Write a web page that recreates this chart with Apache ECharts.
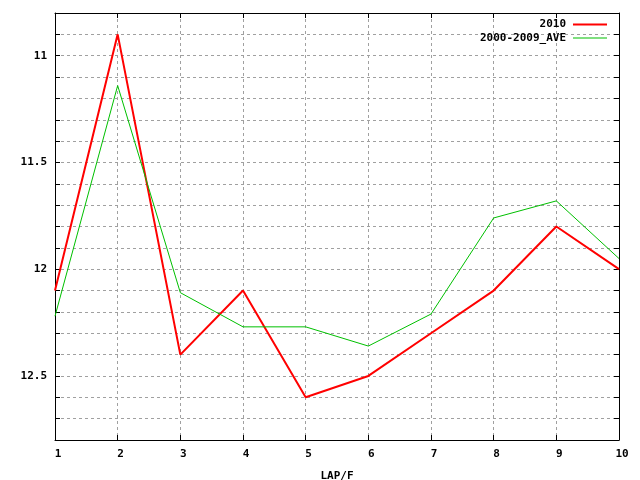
<!DOCTYPE html>
<html>
<head>
<meta charset="utf-8">
<script src="https://cdn.jsdelivr.net/npm/echarts@6/dist/echarts.min.js"></script>
<style>html,body{margin:0;padding:0;background:#fff;}#c{width:640px;height:480px;}</style>
</head>
<body>
<div id="c"></div>
<script>
var laps = [1, 2, 3, 4, 5, 6, 7, 8, 9, 10];
var s2010 = [12.1, 10.9, 12.4, 12.1, 12.6, 12.5, 12.3, 12.1, 11.8, 12.0];
var sAve = [12.22, 11.14, 12.11, 12.27, 12.27, 12.36, 12.21, 11.76, 11.68, 11.95];
var yLabels = ['11', '11.5', '12', '12.5'];
var xName = 'LAP/F';
var names = ['2010', '2000-2009_AVE'];

var font = 'DejaVu Sans Mono';
function pairs(v) { return laps.map(function (x, i) { return [x, v[i]]; }); }
var gridLine = { show: true, lineStyle: { color: '#a0a0a0', type: [3, 3], width: 1 } };
var axLine = { show: true, onZero: false, lineStyle: { color: '#000', width: 1 } };
var tick = { show: true, inside: true, length: 5, lineStyle: { color: '#000' } };
var legText = { fontFamily: font, fontWeight: 'bold', fontSize: 11, color: '#000', padding: [0, 2, 0, 0] };

var chart = echarts.init(document.getElementById('c'));
chart.setOption({
  animation: false,
  backgroundColor: '#fff',
  grid: { left: 55, right: 21, top: 13, bottom: 40, outerBoundsMode: 'none', containLabel: false },
  legend: [
    { data: [{ name: names[0], itemStyle: { color: '#ff0000' } }], right: 28, top: 14, orient: 'vertical', align: 'right', icon: 'rect',
      itemWidth: 34, itemHeight: 2, itemGap: 0, textStyle: legText },
    { data: [{ name: names[1], itemStyle: { color: '#00c000' } }], right: 28, top: 27.5, orient: 'vertical', align: 'right', icon: 'rect',
      itemWidth: 34, itemHeight: 1, itemGap: 0, textStyle: legText }
  ],
  xAxis: [
    { type: 'value', min: 1, max: 10, interval: 1, position: 'bottom',
      name: xName, nameLocation: 'middle', nameGap: 31,
      nameTextStyle: { fontFamily: font, fontWeight: 'bold', fontSize: 11, color: '#000' },
      axisLine: axLine, axisTick: tick, splitLine: gridLine,
      axisLabel: { fontFamily: font, fontWeight: 'bold', fontSize: 11, color: '#000', margin: 9, padding: [0, 0, 0, 6] } },
    { type: 'value', min: 1, max: 10, interval: 1, position: 'top',
      axisLine: axLine, axisTick: tick, splitLine: { show: false }, axisLabel: { show: false } }
  ],
  yAxis: [
    { type: 'value', inverse: true, min: 10.8, max: 12.8, interval: 0.1, position: 'left',
      axisLine: axLine, axisTick: tick, splitLine: gridLine,
      axisLabel: { fontFamily: font, fontWeight: 'bold', fontSize: 11, color: '#000', margin: 8,
        formatter: function (v) {
          var s = String(Math.round(v * 10) / 10);
          return yLabels.indexOf(s) >= 0 ? s : '';
        } } },
    { type: 'value', inverse: true, min: 10.8, max: 12.8, interval: 0.1, position: 'right',
      axisLine: axLine, axisTick: tick, splitLine: { show: false }, axisLabel: { show: false } }
  ],
  series: [
    { name: names[0], type: 'line', data: pairs(s2010), symbol: 'none', showSymbol: false,
      lineStyle: { color: '#ff0000', width: 2 }, itemStyle: { color: '#ff0000' } },
    { name: names[1], type: 'line', data: pairs(sAve), symbol: 'none', showSymbol: false,
      lineStyle: { color: '#00c000', width: 1 }, itemStyle: { color: '#00c000' } }
  ]
});
</script>
</body>
</html>
